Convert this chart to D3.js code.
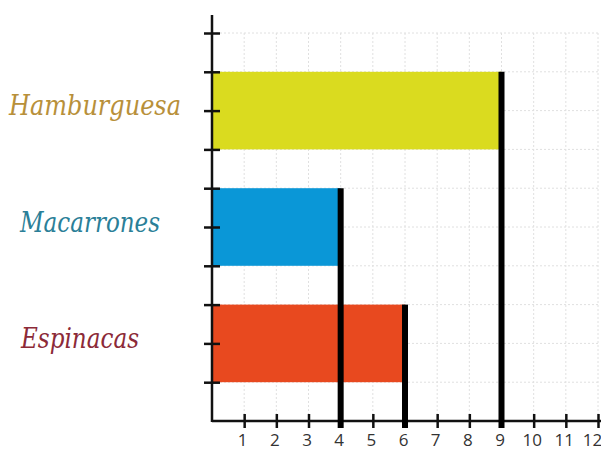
<!DOCTYPE html>
<html>
<head>
<meta charset="utf-8">
<script src="https://cdn.jsdelivr.net/npm/d3@7"></script>
<style>
  body { margin: 0; background: #fff; }
  svg { display: block; }
</style>
</head>
<body>
<svg id="canvas"></svg>
<script>
const categories = ["Hamburguesa", "Macarrones", "Espinacas"];
const values = [9, 4, 6];
const barColors = ["#dadb1f", "#0a97d7", "#e8491f"];
const labelColors = ["#b8903a", "#2b7f98", "#8c2a38"];
const xTicks = [1, 2, 3, 4, 5, 6, 7, 8, 9, 10, 11, 12];
const yTicks = [1, 2, 3, 4, 5, 6, 7, 8, 9, 10];

const width = 601, height = 451;
const svg = d3.select("#canvas").attr("width", width).attr("height", height);

const x = d3.scaleLinear().domain([0, 12]).range([212, 598]);
const y = d3.scaleLinear().domain([0, 10]).range([421, 33]);

// bands for the three foods, sitting between 1 and 9 on the vertical scale
const band = d3.scaleBand()
  .domain(categories)
  .range([y(9), y(1)])
  .paddingInner(1 / 3)
  .paddingOuter(0);

// dashed grid
svg.append("g")
  .selectAll("line")
  .data(xTicks)
  .join("line")
  .attr("x1", d => x(d)).attr("x2", d => x(d))
  .attr("y1", y(10)).attr("y2", y(0))
  .attr("stroke", "#e0e0e0")
  .attr("stroke-dasharray", "2,2");

svg.append("g")
  .selectAll("line")
  .data(yTicks)
  .join("line")
  .attr("x1", x(0)).attr("x2", x(12))
  .attr("y1", d => y(d)).attr("y2", d => y(d))
  .attr("stroke", "#e0e0e0")
  .attr("stroke-dasharray", "2,2");

// bars
svg.append("g")
  .selectAll("rect")
  .data(categories)
  .join("rect")
  .attr("x", x(0))
  .attr("y", d => band(d))
  .attr("width", (d, i) => x(values[i]) - x(0))
  .attr("height", band.bandwidth())
  .attr("fill", (d, i) => barColors[i]);

// x axis
const xAxis = svg.append("g")
  .attr("transform", `translate(0,${y(0)})`)
  .call(d3.axisBottom(x).tickValues(xTicks).tickSize(0).tickPadding(13));
xAxis.select(".domain").remove();
xAxis.selectAll("text")
  .attr("font-family", "Open Sans, sans-serif")
  .attr("font-size", 17)
  .attr("fill", "#333")
  .attr("dx", d => d === 12 ? -6 : -2);
xAxis.selectAll(".tick").append("line")
  .attr("y1", -7).attr("y2", 7)
  .attr("stroke", "#111").attr("stroke-width", 2.5);
xAxis.append("line")
  .attr("x1", x(0)).attr("x2", width)
  .attr("stroke", "#111").attr("stroke-width", 2.5);

// y axis
const yAxis = svg.append("g")
  .attr("transform", `translate(${x(0)},0)`)
  .call(d3.axisLeft(y).tickValues(yTicks).tickSize(0).tickFormat(""));
yAxis.select(".domain").remove();
yAxis.selectAll(".tick").append("line")
  .attr("x1", -8).attr("x2", 8)
  .attr("stroke", "#111").attr("stroke-width", 2.5);
yAxis.append("line")
  .attr("y1", 15).attr("y2", y(0) + 1)
  .attr("stroke", "#111").attr("stroke-width", 2.5);

// thick markers at each value
svg.append("g")
  .selectAll("line")
  .data(categories)
  .join("line")
  .attr("x1", (d, i) => x(values[i])).attr("x2", (d, i) => x(values[i]))
  .attr("y1", d => band(d))
  .attr("y2", y(0) + 7)
  .attr("stroke", "#000")
  .attr("stroke-width", 6);

// category labels
const labelX = [95, 90, 80];
svg.append("g")
  .selectAll("text")
  .data(categories)
  .join("text")
  .attr("x", (d, i) => labelX[i])
  .attr("y", d => band(d) + band.bandwidth() / 2 - 3)
  .attr("text-anchor", "middle")
  .attr("dominant-baseline", "middle")
  .attr("font-family", "DejaVu Serif, serif")
  .attr("font-style", "italic")
  .attr("font-size", 28)
  .attr("fill", (d, i) => labelColors[i])
  .attr("textLength", (d, i) => [172, 140, 118][i])
  .attr("lengthAdjust", "spacingAndGlyphs")
  .text(d => d);
</script>
</body>
</html>
